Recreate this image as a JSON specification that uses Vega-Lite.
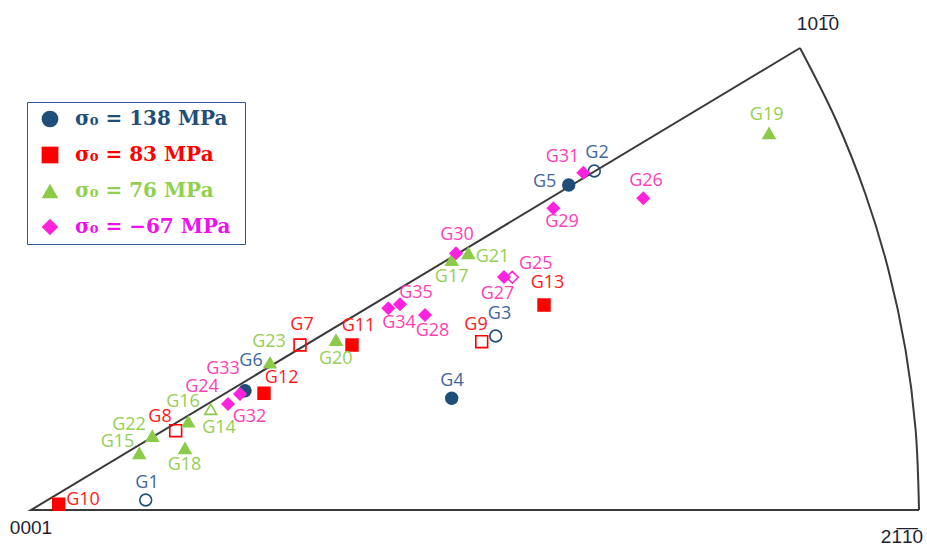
{
  "$schema": "https://vega.github.io/schema/vega-lite/v6.json",
  "width": 927,
  "height": 552,
  "autosize": "none",
  "padding": 0,
  "background": "white",
  "config": {"view": {"stroke": null}},
  "datasets": {
    "arc": [
      {"i": 0, "x": 888, "y": 0},
      {"i": 1, "x": 884.6, "y": 80.5},
      {"i": 2, "x": 874.5, "y": 160.4},
      {"i": 3, "x": 857.7, "y": 239.1},
      {"i": 4, "x": 834.4, "y": 316.0},
      {"i": 5, "x": 804.8, "y": 390.5},
      {"i": 6, "x": 769.0, "y": 462}
    ],
    "edges": [
      {"i": 0, "x": 888, "y": 0},
      {"i": 1, "x": 0, "y": 0},
      {"i": 2, "x": 769, "y": 462}
    ],
    "verts": [
      {"t": "0001", "x": 0, "y": -18},
      {"t": "101\u03050", "x": 787, "y": 486},
      {"t": "21\u03051\u03050", "x": 871, "y": -27}
    ],
    "grains": [
      {"id": "G33", "s": "-67", "x": 212, "y": 118.5, "lx": 192, "ly": 140.7, "open": 0},
      {"id": "G1", "s": "138", "x": 114.7, "y": 10, "lx": 116, "ly": 27, "open": 1},
      {"id": "G2", "s": "138", "x": 563.3, "y": 339, "lx": 566, "ly": 357, "open": 1},
      {"id": "G3", "s": "138", "x": 464.7, "y": 174, "lx": 468.5, "ly": 196, "open": 1},
      {"id": "G4", "s": "138", "x": 420.7, "y": 111.7, "lx": 421, "ly": 129, "open": 0},
      {"id": "G5", "s": "138", "x": 537.7, "y": 325, "lx": 513.7, "ly": 328.3, "open": 0},
      {"id": "G6", "s": "138", "x": 214, "y": 119.3, "lx": 220, "ly": 149, "open": 0},
      {"id": "G7", "s": "83", "x": 269, "y": 165, "lx": 271, "ly": 185, "open": 1},
      {"id": "G8", "s": "83", "x": 144.7, "y": 79.3, "lx": 129, "ly": 92.7, "open": 1},
      {"id": "G9", "s": "83", "x": 450.7, "y": 168.3, "lx": 445, "ly": 185, "open": 1},
      {"id": "G10", "s": "83", "x": 27.7, "y": 5.7, "lx": 52, "ly": 10, "open": 0},
      {"id": "G11", "s": "83", "x": 321, "y": 165, "lx": 327.5, "ly": 184, "open": 0},
      {"id": "G12", "s": "83", "x": 233, "y": 116.7, "lx": 250.7, "ly": 131.7, "open": 0},
      {"id": "G13", "s": "83", "x": 513, "y": 205, "lx": 516.5, "ly": 226.7, "open": 0},
      {"id": "G14", "s": "76", "x": 179.7, "y": 100.7, "lx": 188, "ly": 81.7, "open": 1},
      {"id": "G15", "s": "76", "x": 108.3, "y": 56.7, "lx": 86.5, "ly": 68.3, "open": 0},
      {"id": "G16", "s": "76", "x": 157.3, "y": 88.3, "lx": 152, "ly": 108.3, "open": 0},
      {"id": "G17", "s": "76", "x": 420.7, "y": 250, "lx": 420.7, "ly": 233.3, "open": 0},
      {"id": "G18", "s": "76", "x": 154, "y": 61.7, "lx": 153.5, "ly": 45, "open": 0},
      {"id": "G19", "s": "76", "x": 738, "y": 376.7, "lx": 735.7, "ly": 395, "open": 0},
      {"id": "G20", "s": "76", "x": 305, "y": 170, "lx": 304.8, "ly": 151, "open": 0},
      {"id": "G21", "s": "76", "x": 437.3, "y": 256.7, "lx": 461.5, "ly": 253.3, "open": 0},
      {"id": "G22", "s": "76", "x": 121.3, "y": 74, "lx": 98, "ly": 85, "open": 0},
      {"id": "G23", "s": "76", "x": 239, "y": 147.3, "lx": 238, "ly": 168.3, "open": 0},
      {"id": "G24", "s": "-67", "x": 197, "y": 106, "lx": 171, "ly": 122.7, "open": 0},
      {"id": "G25", "s": "-67", "x": 481.3, "y": 232.7, "lx": 504.8, "ly": 246, "open": 1},
      {"id": "G26", "s": "-67", "x": 612.3, "y": 311.7, "lx": 615, "ly": 329, "open": 0},
      {"id": "G27", "s": "-67", "x": 473, "y": 233, "lx": 466.5, "ly": 216, "open": 0},
      {"id": "G28", "s": "-67", "x": 394, "y": 195, "lx": 401.5, "ly": 179, "open": 0},
      {"id": "G29", "s": "-67", "x": 522.3, "y": 301.7, "lx": 531, "ly": 288.3, "open": 0},
      {"id": "G30", "s": "-67", "x": 425, "y": 256.7, "lx": 426, "ly": 275, "open": 0},
      {"id": "G31", "s": "-67", "x": 552.3, "y": 337.3, "lx": 531.5, "ly": 352.7, "open": 0},
      {"id": "G32", "s": "-67", "x": 209, "y": 116, "lx": 218.5, "ly": 93.3, "open": 0},
      {"id": "G34", "s": "-67", "x": 357.3, "y": 201.7, "lx": 368, "ly": 186.7, "open": 0},
      {"id": "G35", "s": "-67", "x": 369, "y": 205.7, "lx": 385, "ly": 217.3, "open": 0}
    ]
  },
  "layer": [
    {
      "data": {"name": "arc"},
      "mark": {"type": "line", "interpolate": "cardinal", "color": "#3a3a3a", "strokeWidth": 2},
      "encoding": {
        "x": {"field": "x", "type": "quantitative", "scale": {"domain": [-31, 896], "nice": false, "zero": false}, "axis": null},
        "y": {"field": "y", "type": "quantitative", "scale": {"domain": [-42, 510], "nice": false, "zero": false}, "axis": null},
        "order": {"field": "i", "type": "quantitative"}
      }
    },
    {
      "data": {"name": "edges"},
      "mark": {"type": "line", "color": "#3a3a3a", "strokeWidth": 2},
      "encoding": {
        "x": {"field": "x", "type": "quantitative"},
        "y": {"field": "y", "type": "quantitative"},
        "order": {"field": "i", "type": "quantitative"}
      }
    },
    {
      "data": {"name": "grains"},
      "mark": {"type": "point", "filled": true, "size": 140, "strokeWidth": 1.6, "opacity": 1},
      "encoding": {
        "x": {"field": "x", "type": "quantitative"},
        "y": {"field": "y", "type": "quantitative"},
        "shape": {"field": "s", "type": "nominal", "scale": {"domain": ["138", "83", "76", "-67"], "range": ["circle", "square", "triangle-up", "diamond"]}},
        "stroke": {"field": "s", "type": "nominal", "scale": {"domain": ["138", "83", "76", "-67"], "range": ["#1F4E79", "#FF0000", "#8CCB4A", "#FF22DD"]}},
        "fill": {
          "field": "s", "type": "nominal",
          "scale": {"domain": ["138", "83", "76", "-67"], "range": ["#1F4E79", "#FF0000", "#8CCB4A", "#FF22DD"]},
          "legend": {
            "title": null,
            "orient": "none",
            "legendX": 27,
            "legendY": 102,
            "direction": "vertical",
            "strokeColor": "#2F5597",
            "fillColor": "white",
            "padding": 7,
            "symbolSize": 280,
            "symbolOffset": 6,
            "symbolStrokeWidth": 0,
            "labelFont": "DejaVu Serif",
            "labelFontSize": 20,
            "labelFontWeight": "bold",
            "labelOffset": 15,
            "labelLimit": 400,
            "rowPadding": 16,
            "labelExpr": "datum.value == '138' ? 'σ₀ = 138 MPa' : datum.value == '83' ? 'σ₀ = 83  MPa' : datum.value == '76' ? 'σ₀ = 76  MPa' : 'σ₀ = −67  MPa'",
            "labelColor": {"expr": "datum.value == '138' ? '#1F4E79' : datum.value == '83' ? '#FF0000' : datum.value == '76' ? '#92D050' : '#EE11EE'"},
            "encode": {
              "legend": {"update": {"strokeWidth": {"value": 2}}}
            }
          }
        },
        "fillOpacity": {"condition": {"test": "datum.open == 1", "value": 0}, "value": 1}
      }
    },
    {
      "data": {"name": "grains"},
      "mark": {"type": "text", "font": "Open Sans", "fontSize": 18, "align": "center", "baseline": "middle"},
      "encoding": {
        "x": {"field": "lx", "type": "quantitative"},
        "y": {"field": "ly", "type": "quantitative"},
        "text": {"field": "id"},
        "color": {"field": "s", "type": "nominal", "scale": {"domain": ["138", "83", "76", "-67"], "range": ["#42679A", "#FF1A1A", "#95CF55", "#FF3FB4"]}, "legend": null}
      }
    },
    {
      "data": {"name": "verts"},
      "mark": {"type": "text", "font": "Liberation Sans", "fontSize": 19, "align": "center", "baseline": "middle", "color": "#222233"},
      "encoding": {
        "x": {"field": "x", "type": "quantitative"},
        "y": {"field": "y", "type": "quantitative"},
        "text": {"field": "t"}
      }
    }
  ]
}
